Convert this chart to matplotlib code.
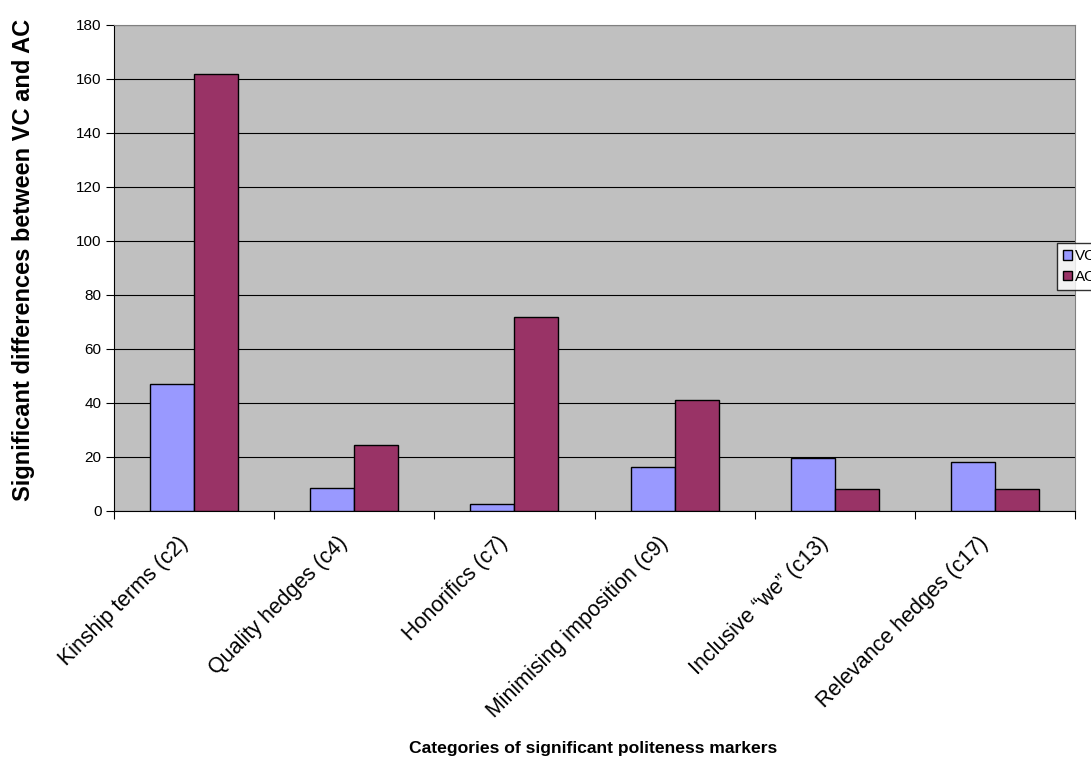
import numpy as np
import matplotlib
matplotlib.use("Agg")
import matplotlib.pyplot as plt
import matplotlib.transforms as mtrans

plt.rcParams["font.family"] = ["Liberation Sans", "DejaVu Sans"]

categories = ["Kinship terms (c2)", "Quality hedges (c4)", "Honorifics (c7)",
              "Minimising imposition (c9)", "Inclusive \u201cwe\u201d (c13)",
              "Relevance hedges (c17)"]
vc = [47, 8.6, 2.7, 16.3, 19.7, 18.0]
ac = [162, 24.4, 72, 41.1, 8.0, 8.0]

fig = plt.figure(figsize=(10.91, 7.63), dpi=100)
ax = fig.add_axes([114 / 1091, 1 - 511 / 763, 961 / 1091, 486 / 763])
ax.set_facecolor("#c0c0c0")

x = np.arange(len(categories))
w = 0.275
ax.bar(x - w / 2, vc, w, color="#9999ff", edgecolor="black", lw=1.0, label="VC", zorder=3)
ax.bar(x + w / 2, ac, w, color="#993366", edgecolor="black", lw=1.0, label="AC", zorder=3)

ax.set_xlim(-0.5, len(categories) - 0.5)
ax.set_ylim(0, 180)
ax.set_yticks(range(0, 181, 20))
ax.yaxis.grid(True, color="black", lw=0.8, zorder=1)
ax.set_axisbelow(True)

# major ticks sit between categories, labels on minor ticks at the centres
ax.set_xticks(np.arange(-0.5, len(categories) + 0.5, 1))
ax.set_xticklabels([])
ax.set_xticks(x, minor=True)
ax.set_xticklabels(categories, minor=True, rotation=45, ha="right",
                   rotation_mode="anchor", fontsize=15.5)
ax.tick_params(axis="x", which="minor", length=0, pad=12)
ax.tick_params(axis="x", which="major", direction="out", length=6)
ax.tick_params(axis="y", direction="out", length=6, labelsize=11, pad=3)

# nudge the slanted labels a bit left / down like the original
shift = mtrans.ScaledTranslation(-0.17, -0.05, fig.dpi_scale_trans)
for lab in ax.get_xticklabels(minor=True):
    lab.set_transform(lab.get_transform() + shift)

for s in ["top", "right"]:
    ax.spines[s].set_color("#808080")
for s in ["left", "bottom"]:
    ax.spines[s].set_color("black")

ax.set_ylabel("Significant differences between VC and AC", fontsize=17,
              fontweight="bold")
ax.yaxis.set_label_coords(-90 / 961, (511 - 260) / 486)
ax.set_xlabel("Categories of significant politeness markers", fontsize=12.6,
              fontweight="bold")
ax.xaxis.set_label_coords((593 - 114) / 961, -(748 - 511) / 486)
ax.xaxis.label.set_va("center")
ax.yaxis.label.set_va("center")

leg = ax.legend(loc="upper left", bbox_to_anchor=(1057 / 1091, 1 - 243 / 763),
                bbox_transform=fig.transFigure, borderaxespad=0, frameon=True,
                fancybox=False, edgecolor="black", fontsize=11, handlelength=0.6,
                handleheight=0.6, handletextpad=0.2, borderpad=0.4, labelspacing=0.45)
leg.get_frame().set_linewidth(1.0)

fig.savefig("out.png", dpi=100)
